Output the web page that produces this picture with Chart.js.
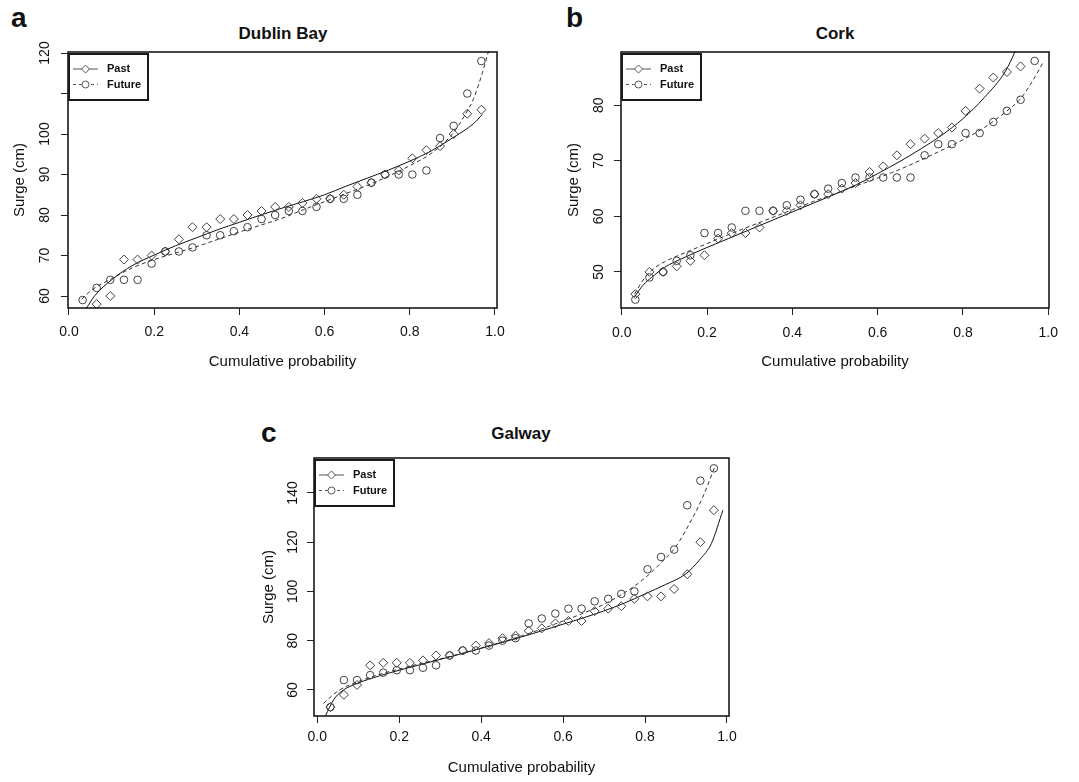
<!DOCTYPE html>
<html>
<head>
<meta charset="utf-8">
<script src="https://cdn.jsdelivr.net/npm/chart.js@4.4.1/dist/chart.umd.min.js"></script>
<style>
  body { margin: 0; background: #fff; width: 1079px; height: 782px; position: relative; overflow: hidden;
         font-family: "Liberation Sans", Arial, Helvetica, sans-serif; color: #111; }
  canvas { position: absolute; }
  .letter { position: absolute; font-weight: bold; font-size: 28px; line-height: 28px; }
  .title { position: absolute; font-weight: bold; font-size: 17px; line-height: 20px; width: 240px; text-align: center; }
</style>
</head>
<body>
<div class="letter" style="left:11px;top:4px">a</div>
<div class="letter" style="left:566px;top:4px">b</div>
<div class="letter" style="left:261px;top:419px">c</div>
<div class="title" style="left:163px;top:24px">Dublin Bay</div>
<div class="title" style="left:715px;top:24px">Cork</div>
<div class="title" style="left:401px;top:424px">Galway</div>

<canvas id="dublin" width="540" height="380" style="left:0;top:0"></canvas>
<canvas id="cork" width="539" height="380" style="left:540px;top:0"></canvas>
<canvas id="galway" width="560" height="382" style="left:240px;top:400px"></canvas>

<script>
// plotting positions of the ranked surges (same for all stations)
const probs = [0.032, 0.065, 0.097, 0.129, 0.161, 0.194, 0.226, 0.258, 0.290, 0.323,
               0.355, 0.387, 0.419, 0.452, 0.484, 0.516, 0.548, 0.581, 0.613, 0.645,
               0.677, 0.710, 0.742, 0.774, 0.806, 0.839, 0.871, 0.903, 0.935, 0.968];

const xTicks = [0, 0.2, 0.4, 0.6, 0.8, 1.0];
const xLabels = ["0.0", "0.2", "0.4", "0.6", "0.8", "1.0"];

// Dublin Bay
const dublinPast = [null, 58, 60, 69, 69, 70, 71, 74, 77, 77, 79, 79, 80, 81, 82, 82, 83, 84, 84, 85,
                    87, 88, 90, 91, 94, 96, 97, 100, 105, 106];
const dublinFuture = [59, 62, 64, 64, 64, 68, 71, 71, 72, 75, 75, 76, 77, 79, 80, 81, 81, 82, 84, 84,
                      85, 88, 90, 90, 90, 91, 99, 102, 110, 118];
const dublinFitPastP = [0.04, 0.06, 0.1, 0.15, 0.2, 0.25, 0.3, 0.35, 0.4, 0.45, 0.5, 0.55, 0.6, 0.65,
                        0.7, 0.75, 0.8, 0.85, 0.9, 0.95, 0.97];
const dublinFitPast = [56.8, 60, 64, 67.6, 70.1, 72.4, 74.4, 76.4, 78.2, 80, 81.7, 83.3, 85, 87.1,
                       89.1, 91.1, 93.3, 95.8, 99, 102.6, 104.8];
const dublinFitFutureP = [0.03, 0.05, 0.1, 0.15, 0.2, 0.25, 0.3, 0.35, 0.4, 0.45, 0.5, 0.55, 0.6, 0.65,
                          0.7, 0.75, 0.8, 0.85, 0.9, 0.93, 0.95, 0.97, 0.985];
const dublinFitFuture = [59.2, 61.2, 64.3, 67, 69, 70.6, 72.2, 74, 75.8, 77.5, 79.2, 81.3, 83.3, 85.3,
                         87.3, 89.6, 92.2, 95.2, 100, 104.8, 108.8, 115, 120.5];
const dublinYTicks = [60, 70, 80, 90, 100, 110, 120];
const dublinYLabels = ["60", "70", "80", "90", "100", "", "120"];

// Cork
const corkPast = [46, 50, 50, 51, 52, 53, 56, 57, 57, 58, 61, 61, 62, 64, 64, 65, 66, 68, 69, 71,
                  73, 74, 75, 76, 79, 83, 85, 86, 87, null];
const corkFuture = [45, 49, 50, 52, 53, 57, 57, 58, 61, 61, 61, 62, 63, 64, 65, 66, 67, 67, 67, 67,
                    67, 71, 73, 73, 75, 75, 77, 79, 81, 88];
const corkFitPastP = [0.03, 0.05, 0.07, 0.1, 0.15, 0.2, 0.25, 0.3, 0.35, 0.4, 0.45, 0.5, 0.55, 0.6,
                      0.65, 0.7, 0.75, 0.8, 0.85, 0.9, 0.93];
const corkFitPast = [45.5, 47.6, 49, 50.8, 52.7, 54.4, 56, 57.6, 59.2, 60.8, 62.4, 64, 65.7, 67.7,
                     69.8, 72.1, 74.6, 77.6, 81.4, 86.2, 91];
const corkFitFutureP = [0.03, 0.05, 0.07, 0.1, 0.15, 0.2, 0.25, 0.3, 0.35, 0.4, 0.45, 0.5, 0.55, 0.6,
                        0.65, 0.7, 0.75, 0.8, 0.85, 0.9, 0.935, 0.96, 0.99];
const corkFitFuture = [46, 48.5, 50.3, 51.8, 53.5, 55.1, 56.7, 58.2, 59.7, 61.2, 62.7, 64.1, 65.5, 66.9,
                       68.4, 70.1, 71.9, 73.8, 76, 78.8, 81.2, 84, 88];
const corkYTicks = [50, 60, 70, 80];
const corkYLabels = ["50", "60", "70", "80"];

// Galway
const galwayPast = [53, 58, 62, 70, 71, 71, 71, 72, 74, 74, 76, 78, 79, 81, 82, 84, 85, 87, 88, 88,
                    92, 93, 94, 97, 98, 98, 101, 107, 120, 133];
const galwayFuture = [53, 64, 64, 66, 67, 68, 68, 69, 70, 74, 76, 76, 78, 80, 81, 87, 89, 91, 93, 93,
                      96, 97, 99, 100, 109, 114, 117, 135, 145, 150];
const galwayFitPastP = [0.02, 0.04, 0.06, 0.1, 0.15, 0.2, 0.25, 0.3, 0.35, 0.4, 0.45, 0.5, 0.55, 0.6,
                        0.65, 0.7, 0.75, 0.8, 0.85, 0.9, 0.935, 0.962, 0.99];
const galwayFitPast = [49.5, 56, 59.5, 62.8, 65.6, 68, 70.2, 72.4, 74.6, 76.9, 79.2, 81.6, 84.1, 86.7,
                       89.3, 92.1, 95.3, 99, 102.8, 107.2, 113.2, 119.5, 133];
const galwayFitFutureP = [0.015, 0.05, 0.1, 0.15, 0.2, 0.25, 0.3, 0.35, 0.4, 0.45, 0.5, 0.55, 0.6, 0.65,
                          0.7, 0.75, 0.8, 0.85, 0.87, 0.9, 0.94, 0.97];
const galwayFitFuture = [54.5, 59.5, 63.4, 66.2, 68.5, 70.6, 72.6, 74.7, 77, 79.4, 82, 84.9, 88, 91.2,
                         94.8, 99.5, 105.5, 113.5, 117, 125, 138, 150.5];
const galwayYTicks = [60, 80, 100, 120, 140];
const galwayYLabels = ["60", "80", "100", "120", "140"];

const fontFamily = '"Liberation Sans", Arial, Helvetica, sans-serif';
const markColor = "#404040";
Chart.defaults.font.family = fontFamily;
Chart.defaults.color = "#111";

// box round the plot region and the boxed legend in its top-left corner
const framePlugin = {
  id: "frame",
  afterDraw(chart) {
    const { ctx, chartArea: a } = chart;
    ctx.save();
    ctx.strokeStyle = "#1a1a1a";
    ctx.lineWidth = 1.6;
    ctx.strokeRect(a.left, a.top, a.right - a.left, a.bottom - a.top);

    const lx = a.left + 1, ly = a.top + 2;
    ctx.lineWidth = 2;
    ctx.strokeRect(lx, ly, 79, 46);

    const entries = [
      { label: chart.data.datasets[0].label, dash: [], shape: "diamond", y: ly + 15 },
      { label: chart.data.datasets[1].label, dash: [3, 3], shape: "circle", y: ly + 30.5 },
    ];
    entries.forEach((e) => {
      ctx.strokeStyle = "#555";
      ctx.lineWidth = 1;
      ctx.setLineDash(e.dash);
      ctx.beginPath();
      ctx.moveTo(lx + 4, e.y);
      ctx.lineTo(lx + 29, e.y);
      ctx.stroke();
      ctx.setLineDash([]);
      const cx = lx + 16.5;
      ctx.fillStyle = "#fff";
      ctx.beginPath();
      if (e.shape === "diamond") {
        ctx.moveTo(cx - 4, e.y);
        ctx.lineTo(cx, e.y - 4);
        ctx.lineTo(cx + 4, e.y);
        ctx.lineTo(cx, e.y + 4);
        ctx.closePath();
      } else {
        ctx.arc(cx, e.y, 3.5, 0, Math.PI * 2);
      }
      ctx.fill();
      ctx.stroke();
      ctx.fillStyle = "#111";
      ctx.font = "bold 11px " + fontFamily;
      ctx.textBaseline = "middle";
      ctx.textAlign = "left";
      ctx.fillText(e.label, lx + 38, e.y);
    });
    ctx.restore();
  },
};

const toPts = (xs, ys) => xs.map((x, i) => ({ x: x, y: ys[i] }));

const makePanel = (id, lay, d) => {
  new Chart(document.getElementById(id), {
    type: "scatter",
    data: {
      datasets: [
        {
          label: "Past",
          data: toPts(probs, d.past),
          pointStyle: "rectRot",
          pointRadius: 4.5,
          pointBorderWidth: 1,
          borderColor: markColor,
          backgroundColor: "rgba(0,0,0,0)",
        },
        {
          label: "Future",
          data: toPts(probs, d.future),
          pointStyle: "circle",
          pointRadius: 3.8,
          pointBorderWidth: 1,
          borderColor: markColor,
          backgroundColor: "rgba(0,0,0,0)",
        },
        {
          label: "Past fit",
          data: toPts(d.fitPastP, d.fitPast),
          showLine: true,
          pointRadius: 0,
          borderColor: "#111",
          borderWidth: 1,
          cubicInterpolationMode: "monotone",
          clip: 1,
        },
        {
          label: "Future fit",
          data: toPts(d.fitFutureP, d.fitFuture),
          showLine: true,
          pointRadius: 0,
          borderColor: "#333",
          borderWidth: 1,
          borderDash: [4, 3],
          cubicInterpolationMode: "monotone",
          clip: 1,
        },
      ],
    },
    options: {
      responsive: false,
      animation: false,
      events: [],
      layout: { padding: lay.padding },
      plugins: { legend: { display: false }, tooltip: { enabled: false } },
      scales: {
        x: {
          type: "linear",
          min: lay.xMin,
          max: lay.xMax,
          afterBuildTicks: (s) => { s.ticks = xTicks.map((v) => ({ value: v })); },
          afterFit: (s) => { s.height = lay.xHeight; },
          ticks: {
            callback: (v) => xLabels[xTicks.indexOf(v)],
            padding: lay.xTickPad,
            font: { size: 14 },
            color: "#111",
            maxRotation: 0,
            autoSkip: false,
          },
          grid: { drawOnChartArea: false, tickLength: 7, color: "#222", lineWidth: 1 },
          border: { display: false },
          title: {
            display: true,
            text: "Cumulative probability",
            font: { size: 15 },
            color: "#111",
            padding: { top: 0, bottom: lay.xTitlePad },
          },
        },
        y: {
          type: "linear",
          min: lay.yMin,
          max: lay.yMax,
          afterBuildTicks: (s) => { s.ticks = d.yTicks.map((v) => ({ value: v })); },
          afterFit: (s) => { s.width = 68; },
          ticks: {
            callback: (v) => d.yLabels[d.yTicks.indexOf(v)],
            padding: lay.yTickPad,
            font: { size: 14 },
            color: "#111",
            minRotation: 90,
            maxRotation: 90,
            crossAlign: "center",
            autoSkip: false,
          },
          grid: { drawOnChartArea: false, tickLength: 7, color: "#222", lineWidth: 1 },
          border: { display: false },
          title: {
            display: true,
            text: "Surge (cm)",
            font: { size: 15 },
            color: "#111",
            padding: { top: lay.yTitlePad, bottom: 0 },
          },
        },
      },
    },
    plugins: [framePlugin],
  });
};

makePanel("dublin",
  { padding: { left: 0, top: 52, right: 43, bottom: 0 }, xHeight: 72, xMin: -0.0023, xMax: 1.0047,
    yMin: 57.04, yMax: 120.25, xTickPad: 8.6, yTickPad: 4.6, xTitlePad: 9, yTitlePad: 11 },
  { past: dublinPast, future: dublinFuture, fitPastP: dublinFitPastP, fitPast: dublinFitPast,
    fitFutureP: dublinFitFutureP, fitFuture: dublinFitFuture, yTicks: dublinYTicks, yLabels: dublinYLabels });

makePanel("cork",
  { padding: { left: 13, top: 52, right: 30, bottom: 0 }, xHeight: 72, xMin: -0.0016, xMax: 1.0016,
    yMin: 43.5, yMax: 89.6, xTickPad: 9.5, yTickPad: 6.7, xTitlePad: 9, yTitlePad: 12 },
  { past: corkPast, future: corkFuture, fitPastP: corkFitPastP, fitPast: corkFitPast,
    fitFutureP: corkFitFutureP, fitFuture: corkFitFuture, yTicks: corkYTicks, yLabels: corkYLabels });

makePanel("galway",
  { padding: { left: 6, top: 58, right: 71, bottom: 0 }, xHeight: 66, xMin: -0.008, xMax: 1.0049,
    yMin: 49.4, yMax: 154.2, xTickPad: 6, yTickPad: 2, xTitlePad: 5, yTitlePad: 13.5 },
  { past: galwayPast, future: galwayFuture, fitPastP: galwayFitPastP, fitPast: galwayFitPast,
    fitFutureP: galwayFitFutureP, fitFuture: galwayFitFuture, yTicks: galwayYTicks, yLabels: galwayYLabels });
</script>
</body>
</html>
